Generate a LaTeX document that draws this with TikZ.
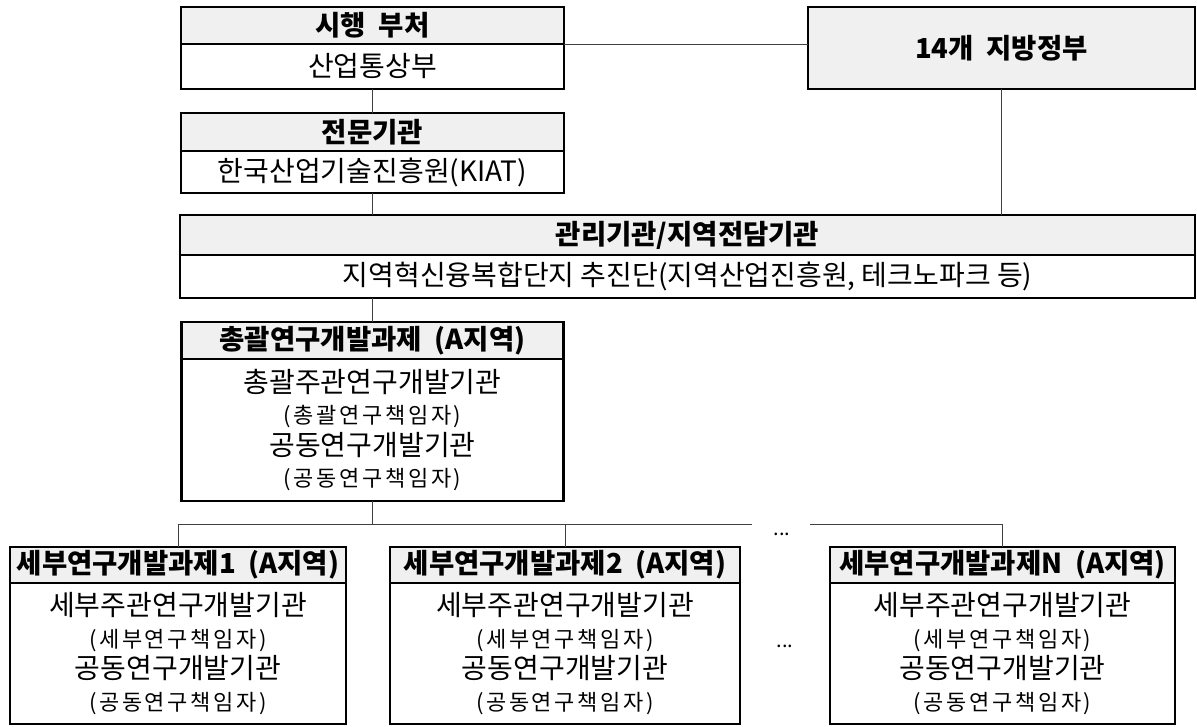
\documentclass[tikz,border=0pt]{standalone}
\usepackage{fontspec}
\setmainfont{Noto Sans CJK KR}
\newfontfamily\parenkr[LetterSpace=12]{Noto Sans CJK KR}
\usetikzlibrary{positioning}

\newcommand{\headfont}{\fontsize{27.5}{30}\selectfont\bfseries}
\newcommand{\bodyfont}{\fontsize{28}{31.5}\selectfont}
\newcommand{\parenfont}{\parenkr\fontsize{22}{31.5}\selectfont}

\begin{document}
\begin{tikzpicture}[x = 1pt, y = -1pt]
    \useasboundingbox (0, 0) rectangle (1197, 726);

    \tikzstyle{head} = [draw, line width = 2.4pt, fill = black!6, inner sep = 0pt, outer sep = 0pt, anchor = north, font = \headfont]
    \tikzstyle{body} = [draw, line width = 2.4pt, inner sep = 0pt, outer sep = 0pt, align = center, font = \bodyfont]
    \tikzstyle{link} = [line width = 1pt, black!75]

    % top row
    \node[head, minimum width = 383pt, minimum height = 37pt] (gov) at (372.5, 7) {시행~~부처};
    \node[body, below = 0pt of gov, minimum width = 383pt, minimum height = 45pt] (govb) {산업통상부};

    \node[head, minimum width = 387pt, minimum height = 82pt] (local) at (1001.5, 7) {14개~~지방정부};

    \node[head, minimum width = 383pt, minimum height = 38pt] (agency) at (372.5, 113) {전문기관};
    \node[body, below = 0pt of agency, minimum width = 383pt, minimum height = 42pt] (agencyb) {한국산업기술진흥원(KIAT)};

    % management
    \node[head, minimum width = 1015pt, minimum height = 40pt] (manage) at (687.5, 215) {관리기관/지역전담기관};
    \node[body, below = 0pt of manage, minimum width = 1015pt, minimum height = 43pt] (manageb) {지역혁신융복합단지 추진단(지역산업진흥원, 테크노파크 등)};

    % lead project
    \node[head, minimum width = 382pt, minimum height = 37pt] (lead) at (372.5, 322) {총괄연구개발과제~~(A지역)};
    \node[body, below = 0pt of lead, minimum width = 382pt, minimum height = 142pt] (leadb)
        {총괄주관연구개발기관\\{\parenfont(총괄연구책임자)}\\공동연구개발기관\\{\parenfont(공동연구책임자)}};

    % sub projects
    \node[head, minimum width = 336pt, minimum height = 36pt] (sub1) at (178, 547) {세부연구개발과제1~~(A지역)};
    \node[body, below = 0pt of sub1, minimum width = 336pt, minimum height = 141pt] (sub1b)
        {세부주관연구개발기관\\{\parenfont(세부연구책임자)}\\공동연구개발기관\\{\parenfont(공동연구책임자)}};

    \node[head, minimum width = 350pt, minimum height = 36pt] (sub2) at (565, 547) {세부연구개발과제2~~(A지역)};
    \node[body, below = 0pt of sub2, minimum width = 350pt, minimum height = 141pt] (sub2b)
        {세부주관연구개발기관\\{\parenfont(세부연구책임자)}\\공동연구개발기관\\{\parenfont(공동연구책임자)}};

    \node[head, minimum width = 345pt, minimum height = 36pt] (subN) at (1002.5, 547) {세부연구개발과제N~~(A지역)};
    \node[body, below = 0pt of subN, minimum width = 345pt, minimum height = 141pt] (subNb)
        {세부주관연구개발기관\\{\parenfont(세부연구책임자)}\\공동연구개발기관\\{\parenfont(공동연구책임자)}};

    \node[font = \fontsize{20}{22}\selectfont] (dotsbus) at (782, 534) {...};
    \node[font = \fontsize{20}{22}\selectfont] (dotsrow) at (785, 646) {...};

    % connectors
    \coordinate (gapL) at (752, 524);
    \coordinate (gapR) at (810, 524);

    \draw[link] (govb.north east) -- (govb.north east -| local.west);
    \draw[link] (govb.south) -- (agency.north);
    \draw[link] (agencyb.south) -- (agencyb.south |- manage.north);
    \draw[link] (local.south) -- (local.south |- manage.north);
    \draw[link] (manageb.south -| leadb.south) -- (lead.north);
    \draw[link] (leadb.south) -- (leadb.south |- gapL);
    \draw[link] (sub1.north) -- (sub1.north |- gapL) -- (gapL);
    \draw[link] (sub2.north) -- (sub2.north |- gapL);
    \draw[link] (gapR) -- (subN.north |- gapR) -- (subN.north);
\end{tikzpicture}
\end{document}
